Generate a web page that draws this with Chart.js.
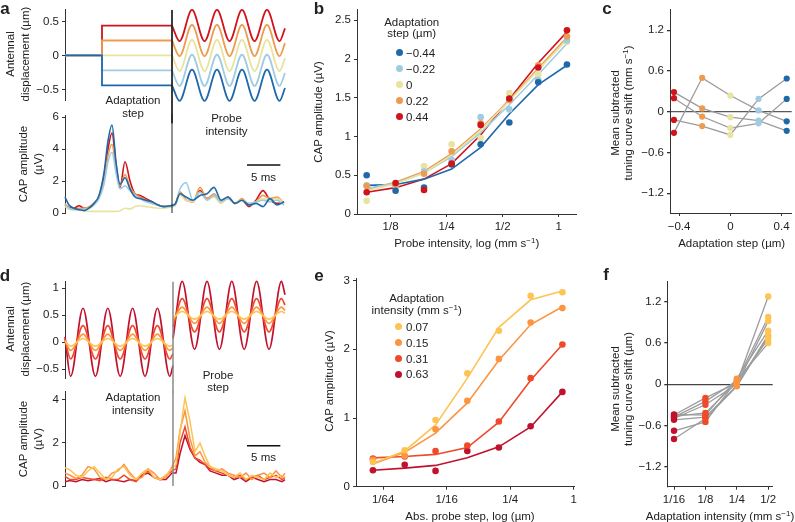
<!DOCTYPE html>
<html lang="en">
<head>
<meta charset="UTF-8">
<title>Adaptation of CAP tuning curves</title>
<script src="https://cdn.jsdelivr.net/npm/chart.js"></script>
<style>
  body { margin: 0; background: #fff; }
  #fig { position: relative; width: 795px; height: 522px; overflow: hidden;
         font-family: "Liberation Sans", Arial, Helvetica, sans-serif; color: #222; }
  #fig canvas { position: absolute; }
  .t { position: absolute; font-size: 11.5px; line-height: 13px; white-space: nowrap;
       text-align: center; transform: translate(-50%, -50%); }
  .r { transform: translate(-50%, -50%) rotate(-90deg); }
  .p { position: absolute; font-size: 17px; font-weight: bold; line-height: 17px; transform: translate(-50%, -50%); }
  .dot { position: absolute; width: 7px; height: 7px; border-radius: 50%; }
  .lt { position: absolute; font-size: 11.5px; line-height: 14px; white-space: nowrap; }
  sup { font-size: 8px; line-height: 0; vertical-align: 4px; }
</style>
</head>
<body>
<div id="fig">
  <canvas id="aTop"></canvas>
  <canvas id="aCap"></canvas>
  <canvas id="bChart"></canvas>
  <canvas id="cChart"></canvas>
  <canvas id="dTop"></canvas>
  <canvas id="dCap"></canvas>
  <canvas id="eChart"></canvas>
  <canvas id="fChart"></canvas>

  <!-- panel letters -->
  <div class="p" style="left:5px;top:8px">a</div>
  <div class="p" style="left:319px;top:8px">b</div>
  <div class="p" style="left:607px;top:8px">c</div>
  <div class="p" style="left:5px;top:275px">d</div>
  <div class="p" style="left:319px;top:275px">e</div>
  <div class="p" style="left:606px;top:274px">f</div>

  <!-- panel a -->
  <div class="t r" style="left:17.5px;top:54px;line-height:15px">Antennal<br>displacement (µm)</div>
  <div class="t r" style="left:30.5px;top:164px;line-height:15px">CAP amplitude<br>(µV)</div>
  <div class="t" style="left:133px;top:106px;line-height:12.5px">Adaptation<br>step</div>
  <div class="t" style="left:226.5px;top:124px;line-height:12.5px">Probe<br>intensity</div>
  <div class="t" style="left:263.5px;top:177px">5 ms</div>

  <!-- panel b -->
  <div class="t r" style="left:318px;top:112px">CAP amplitude (µV)</div>
  <div class="t" style="left:466.7px;top:242.7px">Probe intensity, log (mm s<sup>−1</sup>)</div>
  <div class="t" style="left:411.7px;top:28px;line-height:11px">Adaptation<br>step (µm)</div>

  <!-- panel c -->
  <div class="t r" style="left:621.5px;top:113px">Mean subtracted<br>tuning curve shift (mm s<sup>−1</sup>)</div>
  <div class="t" style="left:731.7px;top:242.7px">Adaptation step (µm)</div>

  <!-- panel d -->
  <div class="t r" style="left:17.5px;top:329px;line-height:15px">Antennal<br>displacement (µm)</div>
  <div class="t r" style="left:30.5px;top:439px;line-height:15px">CAP amplitude<br>(µV)</div>
  <div class="t" style="left:133px;top:403px;line-height:12.5px">Adaptation<br>intensity</div>
  <div class="t" style="left:218px;top:380.5px;line-height:12.5px">Probe<br>step</div>
  <div class="t" style="left:263.5px;top:456.5px">5 ms</div>

  <!-- panel e -->
  <div class="t r" style="left:329px;top:381px">CAP amplitude (µV)</div>
  <div class="t" style="left:470px;top:516px">Abs. probe step, log (µm)</div>
  <div class="t" style="left:416.7px;top:304px;line-height:12px">Adaptation<br>intensity (mm s<sup>−1</sup>)</div>

  <!-- panel f -->
  <div class="t r" style="left:621.5px;top:389px">Mean subtracted<br>tuning curve shift (µm)</div>
  <div class="t" style="left:720px;top:516px">Adaptation intensity (mm s<sup>−1</sup>)</div>
</div>

<script>
  const FONT = '"Liberation Sans", Arial, Helvetica, sans-serif';
  Chart.defaults.font.family = FONT;

  // ---------- colours ----------
  // adaptation step: 0.44, 0.22, 0, -0.22, -0.44
  const stepColors = ['#cf141c', '#ee9b50', '#e8e39f', '#9fcce2', '#1f69ab'];
  // adaptation intensity: 0.07, 0.15, 0.31, 0.63
  const intColors = ['#fdc453', '#fd9440', '#ef4a2a', '#c0112e'];

  // ---------- panel a: displacement ----------
  const aLevels = [0.44, 0.22, 0, -0.22, -0.44];
  const aStepOn = 5.55;      // ms
  const aProbeOn = 16.05;    // ms
  const aWaveTimes = [16.05, 17.18, 19.05, 20.93, 22.8, 24.68, 26.55, 28.43, 30.3, 32.18, 33.0];
  const aWaveRed    = [0.44, 0.21, 0.67, 0.21, 0.67, 0.21, 0.67, 0.21, 0.67, 0.21, 0.40];
  const aWaveOrange = [0.22, -0.01, 0.45, -0.01, 0.45, -0.01, 0.45, -0.01, 0.45, -0.01, 0.18];
  const aWaveYellow = [0, -0.23, 0.23, -0.23, 0.23, -0.23, 0.23, -0.23, 0.23, -0.23, -0.04];
  const aWaveLBlue  = [-0.22, -0.45, 0.01, -0.45, 0.01, -0.45, 0.01, -0.45, 0.01, -0.45, -0.26];
  const aWaveBlue   = [-0.44, -0.67, -0.21, -0.67, -0.21, -0.67, -0.21, -0.67, -0.21, -0.67, -0.48];

  // ---------- panel a: CAP ----------
  const aCapTimes = [0, 0.6, 1.35, 2.1, 2.85, 3.6, 4.35, 5.1, 5.85, 6.45, 7.05, 7.65, 8.25, 9.0, 9.75, 10.5, 11.25, 12.15, 13.05, 13.95,
    14.85, 15.75, 16.5, 17.25, 18.15, 19.2, 20.25, 21.3, 22.35, 23.4, 24.45, 25.5, 26.55, 27.6, 28.65, 29.7, 30.75, 31.8, 32.85];
  const aCapRed    = [0.5, 0.35, 0.3, 0.45, 0.3, 0.35, 0.6, 1.0, 2.3, 4.0, 5.0, 3.0, 1.6, 3.2, 2.0, 1.2, 1.1, 0.9, 0.7, 0.5,
    0.4, 0.45, 0.5, 1.3, 0.8, 0.7, 1.4, 0.9, 1.1, 0.7, 1.0, 0.6, 0.8, 0.4, 0.8, 1.4, 0.8, 0.6, 0.7];
  const aCapOrange = [0.6, 0.3, 0.25, 0.3, 0.3, 0.4, 0.6, 1.0, 2.0, 3.6, 4.3, 2.8, 1.7, 2.4, 1.6, 1.2, 1.0, 0.8, 0.6, 0.5,
    0.4, 0.4, 0.5, 1.3, 0.8, 0.7, 1.6, 0.9, 1.2, 0.7, 1.0, 0.6, 0.9, 0.5, 0.7, 1.1, 0.9, 1.0, 0.6];
  const aCapYellow = [0.4, 0.25, 0.2, 0.2, 0.15, 0.1, 0.1, 0.1, 0.1, 0.1, 0.1, 0.1, 0.12, 0.3, 0.25, 0.4, 0.45, 0.4, 0.35, 0.3,
    0.3, 0.35, 0.45, 1.1, 0.8, 0.7, 1.3, 0.8, 1.0, 0.6, 0.9, 0.6, 0.8, 0.6, 0.7, 0.9, 0.8, 0.9, 0.6];
  const aCapLBlue  = [0.5, 0.3, 0.2, 0.2, 0.25, 0.3, 0.5, 0.9, 1.8, 3.2, 3.8, 2.5, 1.5, 1.7, 1.4, 1.1, 0.9, 0.7, 0.6, 0.5,
    0.4, 0.4, 0.5, 1.5, 1.9, 0.8, 1.3, 0.8, 1.1, 0.7, 0.9, 0.6, 0.8, 0.6, 0.7, 0.8, 0.7, 0.8, 0.5];
  const aCapBlue   = [1.0, 0.5, 0.3, 0.2, 0.15, 0.3, 0.6, 1.1, 2.5, 4.5, 5.5, 3.2, 1.8, 2.2, 1.5, 1.0, 0.9, 0.8, 0.7, 0.5,
    0.4, 0.45, 0.55, 1.2, 1.0, 0.8, 1.1, 1.2, 1.6, 0.8, 1.0, 0.6, 0.8, 0.5, 0.6, 0.4, 0.9, 0.5, 0.7];

  // scale bars (5 ms)
  const barStart = 27.3, barLen = 5;
  const aBarLevel = 3.0, dBarLevel = 1.87;

  // ---------- panel b ----------
  const bProbe = [0.093, 0.133, 0.189, 0.266, 0.381, 0.543, 0.777, 1.108]; // mm/s
  const bDotRed    = [0.28, 0.40, 0.31, 0.65, 1.15, 1.49, 1.89, 2.37];
  const bDotOrange = [0.36, 0.38, 0.52, 0.81, 1.17, 1.47, 1.92, 2.29];
  const bDotYellow = [0.17, 0.37, 0.62, 0.90, 0.98, 1.56, 1.80, 2.22];
  const bDotLBlue  = [0.37, 0.36, 0.55, 0.70, 1.25, 1.35, 1.73, 2.24];
  const bDotBlue   = [0.50, 0.30, 0.34, 0.64, 0.90, 1.18, 1.70, 1.93];
  const bFitRed    = [0.28, 0.34, 0.45, 0.65, 1.02, 1.48, 1.95, 2.35];
  const bFitOrange = [0.32, 0.41, 0.55, 0.78, 1.10, 1.47, 1.88, 2.28];
  const bFitYellow = [0.30, 0.39, 0.53, 0.76, 1.08, 1.46, 1.86, 2.25];
  const bFitLBlue  = [0.33, 0.40, 0.53, 0.74, 1.05, 1.41, 1.80, 2.20];
  const bFitBlue   = [0.37, 0.38, 0.45, 0.58, 0.86, 1.29, 1.67, 1.92];
  const bLegend = ['−0.44', '−0.22', '0', '0.22', '0.44'];

  // ---------- panel c ----------
  const cSteps = [-0.44, -0.22, 0, 0.22, 0.44];
  const cDotColors = ['#cf141c', '#ee9b50', '#e8e39f', '#9fcce2', '#1f69ab'];
  const cShift1 = [-0.31, 0.50, 0.24, 0.02, -0.14];
  const cShift2 = [0.29, 0.05, -0.08, -0.13, -0.28];
  const cShift3 = [-0.12, -0.21, -0.34, 0.19, 0.49];
  const cShift4 = [0.20, -0.07, -0.24, -0.17, 0.19];

  // ---------- panel d: displacement ----------
  const dProbeOn = 16.2;
  const dAdaptTimes = [0, 0.84, 2.7, 4.56, 6.42, 8.28, 10.14, 12.0, 13.86, 15.72, 16.2];
  const dProbeTimes = [16.2, 17.58, 19.44, 21.3, 23.16, 25.02, 26.88, 28.74, 30.6, 32.46, 33.0];
  const dAdaptYellow = [0.02, -0.07, 0.07, -0.07, 0.07, -0.07, 0.07, -0.07, 0.07, -0.07, -0.05];
  const dAdaptOrange = [0.03, -0.15, 0.15, -0.15, 0.15, -0.15, 0.15, -0.15, 0.15, -0.15, -0.10];
  const dAdaptRedOr  = [0.05, -0.31, 0.31, -0.31, 0.31, -0.31, 0.31, -0.31, 0.31, -0.31, -0.21];
  const dAdaptRed    = [0.10, -0.63, 0.63, -0.63, 0.63, -0.63, 0.63, -0.63, 0.63, -0.63, -0.43];
  const dProbeYellow = [0.45, 0.57, 0.43, 0.57, 0.43, 0.57, 0.43, 0.57, 0.43, 0.57, 0.54];
  const dProbeOrange = [0.40, 0.65, 0.35, 0.65, 0.35, 0.65, 0.35, 0.65, 0.35, 0.65, 0.59];
  const dProbeRedOr  = [0.29, 0.81, 0.19, 0.81, 0.19, 0.81, 0.19, 0.81, 0.19, 0.81, 0.69];
  const dProbeRed    = [0.07, 1.13, -0.13, 1.13, -0.13, 1.13, -0.13, 1.13, -0.13, 1.13, 0.88];

  // ---------- panel d: CAP ----------
  const dCapTimes = [0, 0.75, 1.65, 2.55, 3.45, 4.35, 5.25, 6.15, 7.05, 7.95, 8.85, 9.75, 10.65, 11.55, 12.45, 13.35, 14.25, 15.15, 16.05, 16.65,
    17.25, 18.0, 18.75, 19.5, 20.25, 21.0, 21.75, 22.65, 23.55, 24.45, 25.35, 26.25, 27.15, 28.05, 28.95, 29.85, 30.75, 31.65, 32.55, 33.0];
  const dCapYellow = [0.85, 0.75, 0.5, 0.4, 0.7, 0.9, 0.6, 0.3, 0.4, 0.8, 0.9, 0.5, 0.3, 0.6, 0.8, 0.4, 0.3, 0.5, 0.8, 1.0,
    2.5, 4.1, 3.0, 1.6, 2.0, 1.4, 0.9, 0.8, 0.7, 0.5, 0.4, 0.6, 0.3, 0.5, 0.4, 0.3, 0.6, 0.4, 0.5, 0.4];
  const dCapOrange = [0.6, 0.5, 0.35, 0.5, 0.9, 0.8, 0.4, 0.3, 0.6, 0.7, 1.0, 0.6, 0.3, 0.4, 0.8, 0.6, 0.3, 0.4, 0.9, 1.3,
    2.6, 3.5, 2.2, 1.4, 1.6, 1.1, 0.9, 0.7, 0.8, 0.6, 0.5, 0.4, 0.6, 0.3, 0.5, 0.6, 0.4, 0.7, 0.4, 0.6];
  const dCapRedOr  = [0.45, 0.3, 0.3, 0.4, 0.35, 0.3, 0.25, 0.4, 0.3, 0.3, 0.5, 0.3, 0.2, 0.5, 0.7, 0.4, 0.3, 0.5, 0.7, 0.8,
    2.0, 2.75, 1.8, 1.3, 1.2, 1.0, 0.8, 0.7, 0.6, 0.5, 0.4, 0.5, 0.3, 0.4, 0.5, 0.3, 0.4, 0.5, 0.3, 0.4];
  const dCapRed    = [0.2, 0.25, 0.2, 0.3, 0.25, 0.3, 0.35, 0.2, 0.3, 0.25, 0.2, 0.3, 0.25, 0.5, 0.6, 0.4, 0.3, 0.3, 0.6, 0.6,
    1.5, 2.35, 1.7, 1.3, 1.1, 1.0, 0.7, 0.6, 0.5, 0.5, 0.3, 0.4, 0.2, 0.4, 0.3, 0.2, 0.3, 0.3, 0.2, 0.3];

  // ---------- panel e ----------
  const eProbe = [0.0125, 0.025, 0.049, 0.098, 0.195, 0.39, 0.78]; // µm
  const eDotYellow = [0.36, 0.53, 0.97, 1.65, 2.27, 2.78, 2.83];
  const eDotOrange = [0.39, 0.45, 0.835, 1.25, 1.86, 2.39, 2.60];
  const eDotRedOr  = [0.41, 0.44, 0.52, 0.60, 0.95, 1.58, 2.07];
  const eDotRed    = [0.24, 0.32, 0.23, 0.52, 0.57, 0.88, 1.38];
  const eFitYellow = [0.34, 0.52, 0.90, 1.58, 2.32, 2.72, 2.85];
  const eFitOrange = [0.33, 0.50, 0.78, 1.22, 1.84, 2.36, 2.62];
  const eFitRedOr  = [0.42, 0.44, 0.47, 0.57, 0.94, 1.55, 2.07];
  const eFitRed    = [0.24, 0.27, 0.31, 0.42, 0.58, 0.87, 1.38];
  const eLegend = ['0.07', '0.15', '0.31', '0.63'];

  // ---------- panel f ----------
  const fIntensity = [0.0625, 0.125, 0.25, 0.5];
  const fDotColors = ['#c0112e', '#ef4a2a', '#fd9440', '#fdc453'];
  const fShift1 = [-0.45, -0.20, 0.02, 1.28];
  const fShift2 = [-0.48, -0.25, 0.05, 0.98];
  const fShift3 = [-0.50, -0.30, 0.00, 0.92];
  const fShift4 = [-0.44, -0.45, 0.08, 0.78];
  const fShift5 = [-0.52, -0.48, -0.02, 0.72];
  const fShift6 = [-0.47, -0.42, 0.03, 0.66];
  const fShift7 = [-0.68, -0.55, 0.06, 0.60];
  const fShift8 = [-0.80, -0.50, -0.03, 0.70];

  // ---------- helpers ----------
  const fmt = v => (v < 0 ? '−' + Math.abs(v) : String(v));

  function axisCfg(o) {
    return {
      type: o.type || 'linear', min: o.min, max: o.max, display: o.display !== false,
      afterBuildTicks: s => { if (o.ticks) s.ticks = o.ticks.map(v => ({ value: v })); },
      afterFit: s => { if (o.size !== undefined) { if (s.isHorizontal()) s.height = o.size; else s.width = o.size; } },
      ticks: {
        autoSkip: false, maxRotation: 0, minRotation: 0, padding: o.pad !== undefined ? o.pad : 3, color: '#222',
        font: { family: FONT, size: 11.5 },
        callback: (v, i) => (o.labels ? o.labels[i] : fmt(v))
      },
      grid: {
        drawOnChartArea: !!o.zero,
        color: o.zero ? (c => (c.tick && c.tick.value === 0 ? o.zero : 'rgba(0,0,0,0)')) : '#333',
        tickColor: '#333', tickLength: 3, lineWidth: o.zero ? 1.3 : 1
      },
      border: { display: true, color: '#333', width: 1 }
    };
  }

  function makeChart(id, g, datasets, xo, yo) {
    const cv = document.getElementById(id);
    cv.width = g.w; cv.height = g.h;
    cv.style.left = g.x + 'px'; cv.style.top = g.y + 'px';
    const xShown = xo.display !== false;
    if (xShown) xo.size = g.h - g.b;
    yo.size = g.l;
    return new Chart(cv, {
      type: 'line',
      data: { datasets },
      options: {
        responsive: false, animation: false, devicePixelRatio: 1,
        layout: { padding: { left: 0, top: g.t, right: g.w - g.r, bottom: xShown ? 0 : g.h - g.b } },
        plugins: { legend: { display: false }, tooltip: { enabled: false } },
        scales: { x: axisCfg(xo), y: axisCfg(yo) }
      }
    });
  }

  function line(xs, ys, color, o) {
    return Object.assign({
      data: xs.map((x, i) => ({ x, y: ys[i] })), borderColor: color, backgroundColor: color,
      borderWidth: 1.6, pointRadius: 0, fill: false, tension: 0
    }, o || {});
  }
  const smooth = { cubicInterpolationMode: 'monotone', tension: 0.4 };

  function dots(xs, ys, color, o) {
    return Object.assign({
      data: xs.map((x, i) => ({ x, y: ys[i] })), showLine: false, borderColor: color,
      pointRadius: 3.3, pointBackgroundColor: color, pointBorderWidth: 0, pointHoverRadius: 3.3
    }, o || {});
  }

  // ---------- panel a ----------
  const tMax = 33;
  const aWaves = [aWaveRed, aWaveOrange, aWaveYellow, aWaveLBlue, aWaveBlue];
  const aTopSets = [];
  aLevels.forEach((L, i) => {
    aTopSets.push(line([0, aStepOn, aStepOn, aProbeOn], [0, 0, L, L], stepColors[i],
      { borderWidth: 1.8, order: 20 - i, clip: false }));
    aTopSets.push(line(aWaveTimes, aWaves[i], stepColors[i],
      Object.assign({ borderWidth: 1.8, order: 20 - i, clip: false }, smooth)));
  });
  aTopSets.push(line([aProbeOn, aProbeOn], [0.67, -1.0], '#222', { borderWidth: 1, order: 0, clip: false }));
  makeChart('aTop', { x: 0, y: 0, w: 290, h: 125, l: 65, t: 7, r: 285, b: 100 }, aTopSets,
    { min: 0, max: tMax, display: false }, { min: -0.657, max: 0.671, ticks: [-0.5, 0, 0.5] });

  const aCaps = [aCapRed, aCapOrange, aCapYellow, aCapLBlue, aCapBlue];
  const aCapSets = aCaps.map((ys, i) => line(aCapTimes, ys, stepColors[i],
    Object.assign({ borderWidth: 1.6, order: 20 - i, clip: false }, smooth)));
  aCapSets.push(line([aProbeOn, aProbeOn], [0, 6.2], '#222', { borderWidth: 1, order: 1, clip: false }));
  aCapSets.push(line([barStart, barStart + barLen], [aBarLevel, aBarLevel], '#111', { borderWidth: 1.5, order: 0 }));
  makeChart('aCap', { x: 0, y: 105, w: 290, h: 125, l: 65, t: 10, r: 285, b: 108 }, aCapSets,
    { min: 0, max: tMax, display: false }, { min: 0, max: 6.125, ticks: [0, 2, 4, 6] });

  // ---------- panel b ----------
  const bDots = [bDotRed, bDotOrange, bDotYellow, bDotLBlue, bDotBlue];
  const bFits = [bFitRed, bFitOrange, bFitYellow, bFitLBlue, bFitBlue];
  const bSets = [];
  [2, 3, 1, 4, 0].forEach((i, k) => {
    bSets.push(line(bProbe, bFits[i], stepColors[i], { borderWidth: 1.6, order: 10 + k }));
  });
  [2, 3, 1, 4, 0].forEach((i, k) => {
    bSets.push(dots(bProbe, bDots[i], stepColors[i], { order: 5 - k * 0.1 }));
  });
  makeChart('bChart', { x: 280, y: 0, w: 300, h: 250, l: 77, t: 7, r: 296, b: 214 }, bSets,
    { type: 'logarithmic', min: 0.0825, max: 1.239, ticks: [0.125, 0.25, 0.5, 1], labels: ['1/8', '1/4', '1/2', '1'], pad: 3 },
    { min: 0, max: 2.634, ticks: [0, 0.5, 1, 1.5, 2, 2.5] });

  // ---------- panel c ----------
  const cSeries = [cShift1, cShift2, cShift3, cShift4];
  const cSets = cSeries.map(ys => line(cSteps, ys, '#9c9c9c', { borderWidth: 1.3, order: 10 }));
  cSteps.forEach((s, j) => {
    cSets.push(dots(cSeries.map(() => s), cSeries.map(ys => ys[j]), cDotColors[j], { order: 1, pointRadius: 3.1 }));
  });
  makeChart('cChart', { x: 585, y: 0, w: 210, h: 250, l: 85, t: 8, r: 208, b: 213 }, cSets,
    { min: -0.471, max: 0.479, ticks: [-0.4, 0, 0.4], pad: 4 },
    { min: -1.49, max: 1.5, ticks: [-1.2, -0.6, 0, 0.6, 1.2], zero: '#5a5a5a' });

  // ---------- panel d ----------
  const dAdapt = [dAdaptYellow, dAdaptOrange, dAdaptRedOr, dAdaptRed];
  const dProbe = [dProbeYellow, dProbeOrange, dProbeRedOr, dProbeRed];
  const dTopSets = [];
  intColors.forEach((c, i) => {
    dTopSets.push(line(dAdaptTimes, dAdapt[i], c, Object.assign({ borderWidth: 1.7, order: 5 + i, clip: false }, smooth)));
    dTopSets.push(line(dProbeTimes, dProbe[i], c, Object.assign({ borderWidth: 1.7, order: 5 + i, clip: false }, smooth)));
  });
  dTopSets.push(line([dProbeOn, dProbeOn], [1.122, -0.93], '#8a8a8a', { borderWidth: 1.5, order: 0, clip: false }));
  makeChart('dTop', { x: 0, y: 265, w: 290, h: 130, l: 65, t: 16.7, r: 285, b: 113.3 }, dTopSets,
    { min: 0, max: tMax, display: false }, { min: -0.667, max: 1.122, ticks: [-0.5, 0, 0.5, 1] });

  const dCaps = [dCapYellow, dCapOrange, dCapRedOr, dCapRed];
  const dCapSets = dCaps.map((ys, i) => line(dCapTimes, ys, intColors[i], { borderWidth: 1.5, order: 5 + i, clip: false }));
  dCapSets.push(line([dProbeOn, dProbeOn], [0, 4.4], '#8a8a8a', { borderWidth: 1.5, order: 1, clip: false }));
  dCapSets.push(line([barStart, barStart + barLen], [dBarLevel, dBarLevel], '#111', { borderWidth: 1.5, order: 0 }));
  makeChart('dCap', { x: 0, y: 380, w: 290, h: 125, l: 65, t: 11.7, r: 285, b: 106 }, dCapSets,
    { min: 0, max: tMax, display: false }, { min: 0, max: 4.386, ticks: [0, 2, 4] });

  // ---------- panel e ----------
  const eDots = [eDotYellow, eDotOrange, eDotRedOr, eDotRed];
  const eFits = [eFitYellow, eFitOrange, eFitRedOr, eFitRed];
  const eSets = [];
  intColors.forEach((c, i) => eSets.push(line(eProbe, eFits[i], c, { borderWidth: 1.6, order: 10 + i })));
  intColors.forEach((c, i) => eSets.push(dots(eProbe, eDots[i], c, { order: 1 + i * 0.1 })));
  makeChart('eChart', { x: 280, y: 265, w: 300, h: 257, l: 76, t: 13, r: 297, b: 221.7 }, eSets,
    { type: 'logarithmic', min: 0.00864, max: 1.0065, ticks: [1 / 64, 1 / 16, 1 / 4, 1], labels: ['1/64', '1/16', '1/4', '1'], pad: 3 },
    { min: 0, max: 3.038, ticks: [0, 1, 2, 3] });

  // ---------- panel f ----------
  const fSeries = [fShift1, fShift2, fShift3, fShift4, fShift5, fShift6, fShift7, fShift8];
  const fSets = fSeries.map(ys => line(fIntensity, ys, '#9c9c9c', { borderWidth: 1.3, order: 10 }));
  fIntensity.forEach((v, j) => {
    fSets.push(dots(fSeries.map(() => v), fSeries.map(ys => ys[j]), fDotColors[j], { order: 1, pointRadius: 3.2 }));
  });
  makeChart('fChart', { x: 585, y: 265, w: 210, h: 257, l: 82.3, t: 16.7, r: 187.7, b: 221.7 }, fSets,
    { type: 'logarithmic', min: 0.0539, max: 0.552, ticks: [1 / 16, 1 / 8, 1 / 4, 1 / 2], labels: ['1/16', '1/8', '1/4', '1/2'], pad: 3 },
    { min: -1.495, max: 1.495, ticks: [-1.2, -0.6, 0, 0.6, 1.2], zero: '#444' });

  // ---------- HTML legends (built from the label / colour arrays) ----------
  const fig = document.getElementById('fig');
  function addLegend(labels, colors, dotX, textX, y0, dy) {
    labels.forEach((lab, i) => {
      const y = y0 + i * dy;
      const d = document.createElement('div');
      d.className = 'dot';
      d.style.left = (dotX - 3.5) + 'px'; d.style.top = (y - 3.5) + 'px'; d.style.background = colors[i];
      fig.appendChild(d);
      const t = document.createElement('div');
      t.className = 'lt';
      t.style.left = textX + 'px'; t.style.top = (y - 7) + 'px';
      t.textContent = lab;
      fig.appendChild(t);
    });
  }
  addLegend(bLegend, stepColors.slice().reverse(), 399.3, 406, 52.7, 16);
  addLegend(eLegend, intColors, 398.3, 406, 326.7, 15.9);
</script>
</body>
</html>
